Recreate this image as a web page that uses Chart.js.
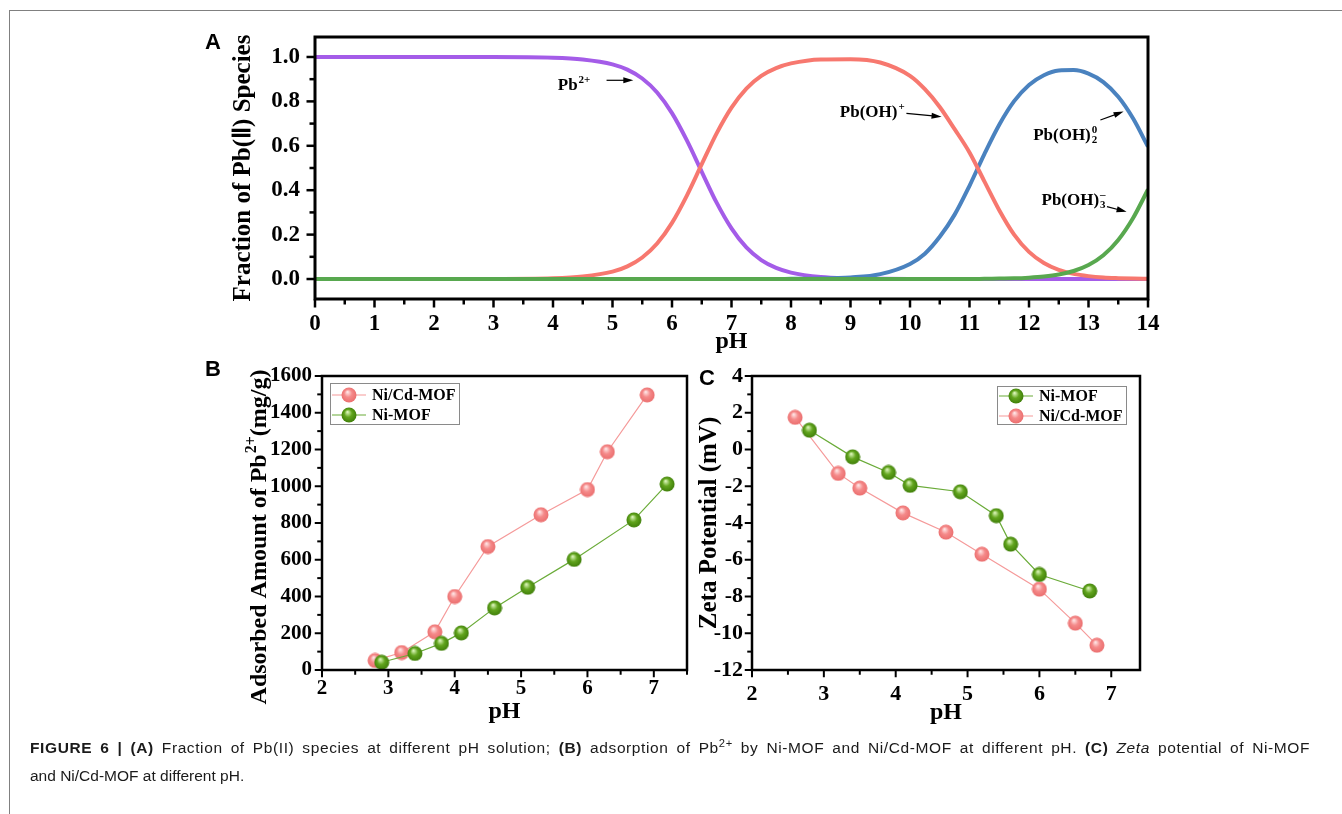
<!DOCTYPE html>
<html>
<head>
<meta charset="utf-8">
<title>Pb(II) speciation, adsorption and zeta potential</title>
<script src="https://cdn.jsdelivr.net/npm/chart.js@4.4.0/dist/chart.umd.min.js"></script>
<style>
  html, body { margin: 0; padding: 0; background: #fff; }
  body { width: 1342px; height: 814px; position: relative; overflow: hidden; }
  .frame { position: absolute; left: 9px; top: 10px; right: -2px; bottom: -2px;
           border-left: 1.5px solid #808080; border-top: 1.5px solid #808080; }
  canvas { position: absolute; }
  .tag { position: absolute; font: bold 22px "Liberation Sans", Arial, sans-serif; line-height: 22px; color: #000; }
  .caption { position: absolute; left: 30px; top: 734px; width: 1280px; font: 15.5px "Liberation Sans", Arial, sans-serif;
             line-height: 28px; color: #1a1a1a; }
  .caption .full { text-align: justify; text-align-last: justify; white-space: nowrap; letter-spacing: 0.6px; }
  .caption sup { font-size: 0.72em; line-height: 0; vertical-align: 0.5em; }
</style>
</head>
<body>
<div class="frame"></div>
<canvas id="chartA" width="980" height="360" style="left:200px;top:20px"></canvas>
<canvas id="chartB" width="500" height="380" style="left:200px;top:360px"></canvas>
<canvas id="chartC" width="480" height="380" style="left:690px;top:360px"></canvas>
<div class="tag" style="left:205px;top:31px">A</div>
<div class="tag" style="left:205px;top:358px">B</div>
<div class="tag" style="left:699px;top:367px">C</div>
<div class="caption">
  <div class="full"><b>FIGURE 6 | (A)</b> Fraction of Pb(II) species at different pH solution; <b>(B)</b> adsorption of Pb<sup>2+</sup> by Ni-MOF and Ni/Cd-MOF at different pH. <b>(C)</b> <i>Zeta</i> potential of Ni-MOF</div>
  <div>and Ni/Cd-MOF at different pH.</div>
</div>
<script>
// (A) species distribution of Pb(II) vs pH
const phGrid = [0, 1, 2, 3, 4, 4.5, 5, 5.25, 5.5, 5.75, 6, 6.25, 6.5, 6.75, 7, 7.25, 7.5, 7.75, 8, 8.5,
  9, 9.5, 10, 10.25, 10.5, 10.75, 11, 11.25, 11.5, 11.75, 12, 12.25, 12.5, 12.75, 13, 13.25, 13.5, 13.75, 14];
const fracPb = [1, 1, 1, 1, 0.997, 0.989, 0.967, 0.943, 0.903, 0.840, 0.747, 0.624, 0.483, 0.344, 0.228, 0.142, 0.085, 0.050, 0.029, 0.009,
  0.003, 0.001, 0, 0, 0, 0, 0, 0, 0, 0, 0, 0, 0, 0, 0, 0, 0, 0, 0];
const fracPbOH = [0, 0, 0, 0, 0.003, 0.011, 0.033, 0.057, 0.097, 0.160, 0.253, 0.376, 0.517, 0.656, 0.772, 0.858, 0.915, 0.950, 0.971, 0.989,
  0.990, 0.975, 0.915, 0.855, 0.775, 0.675, 0.570, 0.440, 0.310, 0.200, 0.122, 0.072, 0.041, 0.023, 0.013, 0.007, 0.004, 0.002, 0.001];
const fracPbOH2 = [0, 0, 0, 0, 0, 0, 0, 0, 0, 0, 0, 0, 0, 0, 0, 0, 0, 0, 0.001, 0.002,
  0.007, 0.022, 0.068, 0.114, 0.190, 0.290, 0.420, 0.563, 0.695, 0.801, 0.874, 0.918, 0.939, 0.941, 0.925, 0.887, 0.821, 0.723, 0.596];
const fracPbOH3 = [0, 0, 0, 0, 0, 0, 0, 0, 0, 0, 0, 0, 0, 0, 0, 0, 0, 0, 0, 0,
  0, 0, 0, 0, 0, 0, 0, 0.001, 0.002, 0.003, 0.006, 0.011, 0.020, 0.036, 0.063, 0.107, 0.176, 0.275, 0.403];

// (B) adsorbed amount of Pb2+ (mg/g)
const phNiCdB = [2.8, 3.2, 3.7, 4.0, 4.5, 5.3, 6.0, 6.3, 6.9];
const qNiCd = [52, 95, 208, 400, 672, 845, 982, 1188, 1497];
const qNiCdErr = [0, 0, 0, 0, 0, 0, 0, 0, 28];
const phNiB = [2.9, 3.4, 3.8, 4.1, 4.6, 5.1, 5.8, 6.7, 7.2];
const qNi = [42, 90, 145, 202, 338, 450, 602, 817, 1012];

// (C) zeta potential (mV)
const phNiC = [2.8, 3.4, 3.9, 4.2, 4.9, 5.4, 5.6, 6.0, 6.7];
const zetaNi = [1.05, -0.4, -1.25, -1.95, -2.3, -3.6, -5.15, -6.8, -7.7];
const phNiCdC = [2.6, 3.2, 3.5, 4.1, 4.7, 5.2, 6.0, 6.5, 6.8];
const zetaNiCd = [1.75, -1.3, -2.1, -3.45, -4.5, -5.7, -7.6, -9.45, -10.65];

const SERIF = '"Liberation Serif", "Times New Roman", serif';

function axisFont(size) {
  return { family: SERIF, weight: 'bold', size };
}

// shaded sphere used as point marker
function ball(light, base, dark) {
  const c = document.createElement('canvas');
  c.width = c.height = 16;
  const g = c.getContext('2d');
  const grad = g.createRadialGradient(6.5, 5, 0.5, 8, 8, 8);
  grad.addColorStop(0, light);
  grad.addColorStop(0.45, base);
  grad.addColorStop(1, dark);
  g.fillStyle = grad;
  g.beginPath();
  g.arc(8, 8, 7.5, 0, Math.PI * 2);
  g.fill();
  return c;
}
const pinkBall = ball('#ffe2e2', '#f58a8a', '#ea6c6c');
const greenBall = ball('#d7f2b4', '#62a51e', '#3d7c08');

// text with superscript / subscript runs
function runWidth(ctx, r, size) {
  if (r.t) {
    ctx.font = `bold ${size}px ${SERIF}`;
    return ctx.measureText(r.t).width;
  }
  ctx.font = `bold ${Math.round(size * 0.66)}px ${SERIF}`;
  return Math.max(r.sup ? ctx.measureText(r.sup).width : 0, r.sub ? ctx.measureText(r.sub).width : 0) + 1;
}
function drawRich(ctx, runs, x, y, size, align) {
  const widths = runs.map(r => runWidth(ctx, r, size));
  let cx = align === 'center' ? x - widths.reduce((s, w) => s + w, 0) / 2 : x;
  ctx.textAlign = 'left';
  ctx.textBaseline = 'alphabetic';
  runs.forEach((r, i) => {
    if (r.t) {
      ctx.font = `bold ${size}px ${SERIF}`;
      ctx.fillText(r.t, cx, y);
    } else {
      ctx.font = `bold ${Math.round(size * 0.66)}px ${SERIF}`;
      if (r.sup) ctx.fillText(r.sup, cx + 1, y - size * 0.42);
      if (r.sub) ctx.fillText(r.sub, cx + 1, y + size * 0.2);
    }
    cx += widths[i];
  });
}

function arrow(ctx, x1, y1, x2, y2) {
  const a = Math.atan2(y2 - y1, x2 - x1);
  const c = Math.cos(a), s = Math.sin(a);
  ctx.beginPath();
  ctx.moveTo(x1, y1);
  ctx.lineTo(x2 - 6 * c, y2 - 6 * s);
  ctx.stroke();
  ctx.beginPath();
  ctx.moveTo(x2, y2);
  ctx.lineTo(x2 - 10 * c + 3 * s, y2 - 10 * s - 3 * c);
  ctx.lineTo(x2 - 10 * c - 3 * s, y2 - 10 * s + 3 * c);
  ctx.closePath();
  ctx.fill();
}

function tickValues(min, max, step) {
  const out = [];
  for (let k = Math.ceil(min / step - 1e-9); k * step <= max + 1e-9; k++) out.push(+(k * step).toFixed(6));
  return out;
}
function isMajor(v, major) {
  return Math.abs(v / major - Math.round(v / major)) < 1e-6;
}

// closed frame with outward major/minor ticks
const frameTicks = {
  id: 'frameTicks',
  afterDatasetsDraw(chart, args, o) {
    const { ctx, chartArea: a, scales: { x, y } } = chart;
    const half = o.frame / 2;
    ctx.save();
    ctx.strokeStyle = '#000';
    ctx.lineWidth = o.tickWidth;
    tickValues(x.min, x.max, o.xMinor).forEach(v => {
      const px = x.getPixelForValue(v);
      const len = isMajor(v, o.xMajor) ? o.major : o.minor;
      ctx.beginPath();
      ctx.moveTo(px, a.bottom);
      ctx.lineTo(px, a.bottom + half + len);
      ctx.stroke();
    });
    tickValues(y.min, y.max, o.yMinor).forEach(v => {
      const py = y.getPixelForValue(v);
      const len = isMajor(v, o.yMajor) ? o.major : o.minor;
      ctx.beginPath();
      ctx.moveTo(a.left, py);
      ctx.lineTo(a.left - half - len, py);
      ctx.stroke();
    });
    ctx.lineWidth = o.frame;
    ctx.strokeRect(a.left, a.top, a.right - a.left, a.bottom - a.top);
    ctx.restore();
  }
};

// species names with arrows, placed in data units
const speciesLabels = {
  id: 'speciesLabels',
  afterDraw(chart, args, o) {
    if (!o.items) return;
    const { ctx, scales: { x, y } } = chart;
    ctx.save();
    ctx.fillStyle = '#000';
    ctx.strokeStyle = '#000';
    ctx.lineWidth = 1.2;
    o.items.forEach(it => {
      drawRich(ctx, it.runs, x.getPixelForValue(it.at[0]), y.getPixelForValue(it.at[1]), 17, 'left');
      arrow(ctx, x.getPixelForValue(it.from[0]), y.getPixelForValue(it.from[1]),
        x.getPixelForValue(it.to[0]), y.getPixelForValue(it.to[1]));
    });
    ctx.restore();
  }
};

// boxed legend inside the plot area
const insetLegend = {
  id: 'insetLegend',
  afterDraw(chart, args, o) {
    if (!o.order) return;
    const { ctx, chartArea: a } = chart;
    const x0 = o.right != null ? a.right - o.right - o.width : a.left + o.left;
    const y0 = a.top + o.top;
    ctx.save();
    ctx.strokeStyle = '#8a8a8a';
    ctx.lineWidth = 1;
    ctx.strokeRect(Math.round(x0) + 0.5, Math.round(y0) + 0.5, o.width, o.height);
    o.order.forEach((di, i) => {
      const ds = chart.data.datasets[di];
      const cy = y0 + o.rowTop + i * o.rowGap;
      ctx.strokeStyle = ds.borderColor;
      ctx.lineWidth = 1.2;
      ctx.beginPath();
      ctx.moveTo(x0 + 2, cy);
      ctx.lineTo(x0 + 36, cy);
      ctx.stroke();
      ctx.drawImage(ds.pointStyle, x0 + 11, cy - 8);
      ctx.fillStyle = '#000';
      ctx.font = `bold 16px ${SERIF}`;
      ctx.textAlign = 'left';
      ctx.textBaseline = 'middle';
      ctx.fillText(ds.label, x0 + 42, cy + 1);
    });
    ctx.restore();
  }
};

// vertical error bars from a dataset's errors array
const errorBars = {
  id: 'errorBars',
  beforeDatasetsDraw(chart) {
    const { ctx, scales: { y } } = chart;
    chart.data.datasets.forEach((ds, di) => {
      if (!ds.errors) return;
      const meta = chart.getDatasetMeta(di);
      ctx.save();
      ctx.strokeStyle = ds.borderColor;
      ctx.lineWidth = 1.2;
      meta.data.forEach((pt, i) => {
        const e = ds.errors[i];
        if (!e) return;
        const v = ds.data[i].y;
        const top = y.getPixelForValue(v + e), bot = y.getPixelForValue(v - e);
        ctx.beginPath();
        ctx.moveTo(pt.x, top); ctx.lineTo(pt.x, bot);
        ctx.moveTo(pt.x - 3, top); ctx.lineTo(pt.x + 3, top);
        ctx.moveTo(pt.x - 3, bot); ctx.lineTo(pt.x + 3, bot);
        ctx.stroke();
      });
      ctx.restore();
    });
  }
};

// rotated y title with superscript
const richYTitle = {
  id: 'richYTitle',
  afterDraw(chart, args, o) {
    if (!o.runs) return;
    const { ctx, chartArea: a } = chart;
    ctx.save();
    ctx.fillStyle = '#000';
    ctx.translate(a.left - o.dx, (a.top + a.bottom) / 2 + o.dy);
    ctx.rotate(-Math.PI / 2);
    drawRich(ctx, o.runs, 0, o.size * 0.34, o.size, 'center');
    ctx.restore();
  }
};

Chart.register(frameTicks, speciesLabels, insetLegend, errorBars, richYTitle);
Chart.defaults.font.family = SERIF;
Chart.defaults.color = '#000';

function curve(label, values, color) {
  return {
    label,
    data: phGrid.map((x, i) => ({ x, y: values[i] })),
    borderColor: color,
    borderWidth: 4,
    pointRadius: 0,
    cubicInterpolationMode: 'monotone',
    fill: false
  };
}
function markers(label, xs, ys, line, img) {
  return {
    label,
    data: xs.map((x, i) => ({ x, y: ys[i] })),
    borderColor: line,
    borderWidth: 1.2,
    pointStyle: img,
    pointRadius: 8,
    pointHoverRadius: 8,
    tension: 0,
    fill: false
  };
}

const base = {
  responsive: false,
  animation: false,
  devicePixelRatio: 1,
  events: []
};
const noGrid = { display: false, drawTicks: false };

// fixed axis box size; label overhang must not push the plot area
function fixSize(prop, size) {
  return s => {
    s[prop] = size;
    s.paddingTop = s.paddingBottom = s.paddingLeft = s.paddingRight = 0;
  };
}

function xScale(min, max, height, font, pad, titlePad) {
  return {
    type: 'linear', min, max,
    afterFit: fixSize('height', height),
    grid: noGrid, border: { display: false },
    ticks: { stepSize: 1, padding: pad, font: axisFont(font), color: '#000', includeBounds: false, maxRotation: 0, autoSkip: false },
    title: { display: true, text: 'pH', font: axisFont(24), color: '#000', padding: { top: 0, bottom: titlePad } }
  };
}

// A
new Chart(document.getElementById('chartA'), {
  type: 'line',
  data: {
    datasets: [
      curve('Pb(OH)3-', fracPbOH3, '#58a84f'),
      curve('Pb(OH)+', fracPbOH, '#f7786f'),
      curve('Pb(OH)2', fracPbOH2, '#4a82bf'),
      curve('Pb2+', fracPb, '#a45ce8')
    ]
  },
  options: {
    ...base,
    layout: { padding: { left: 0, top: 17, right: 32, bottom: 0 } },
    plugins: {
      legend: { display: false }, tooltip: { enabled: false },
      frameTicks: { frame: 3, tickWidth: 2.5, major: 7, minor: 4, xMajor: 1, xMinor: 0.5, yMajor: 0.2, yMinor: 0.1 },
      speciesLabels: {
        items: [
          { runs: [{ t: 'Pb' }, { sup: '2+' }], at: [4.08, 0.85], from: [4.9, 0.895], to: [5.35, 0.895] },
          { runs: [{ t: 'Pb(OH)' }, { sup: '+' }], at: [8.82, 0.73], from: [9.94, 0.746], to: [10.53, 0.731] },
          { runs: [{ t: 'Pb(OH)' }, { sub: '2', sup: '0' }], at: [12.07, 0.626], from: [13.2, 0.716], to: [13.59, 0.754] },
          { runs: [{ t: 'Pb(OH)' }, { sub: '3', sup: '–' }], at: [12.21, 0.333], from: [13.31, 0.326], to: [13.64, 0.303] }
        ]
      }
    },
    scales: {
      x: xScale(0, 14, 81, 23, 11, 24),
      y: {
        min: -0.09, max: 1.09,
        afterFit: fixSize('width', 115),
        grid: noGrid, border: { display: false },
        ticks: { stepSize: 0.2, padding: 15, font: axisFont(23), color: '#000', includeBounds: false, callback: v => v.toFixed(1) },
        title: { display: true, text: 'Fraction of Pb(Ⅱ) Species', font: axisFont(25), color: '#000', padding: { top: 29, bottom: 0 } }
      }
    }
  }
});

// B
new Chart(document.getElementById('chartB'), {
  type: 'line',
  data: {
    datasets: [
      markers('Ni-MOF', phNiB, qNi, '#6aab38', greenBall),
      Object.assign(markers('Ni/Cd-MOF', phNiCdB, qNiCd, '#f59a9a', pinkBall), { errors: qNiCdErr })
    ]
  },
  options: {
    ...base,
    layout: { padding: { left: 0, top: 16, right: 13, bottom: 0 } },
    plugins: {
      legend: { display: false }, tooltip: { enabled: false },
      frameTicks: { frame: 2.5, tickWidth: 2, major: 6, minor: 3.5, xMajor: 1, xMinor: 0.5, yMajor: 200, yMinor: 100 },
      insetLegend: { order: [1, 0], left: 8, top: 7, width: 129, height: 41, rowTop: 12, rowGap: 20 },
      richYTitle: { runs: [{ t: 'Adsorbed Amount of Pb' }, { sup: '2+' }, { t: '(mg/g)' }], dx: 64, dy: 14, size: 24 }
    },
    scales: {
      x: xScale(2, 7.5, 70, 21, 6, 14),
      y: {
        min: 0, max: 1600,
        afterFit: fixSize('width', 122),
        grid: noGrid, border: { display: false },
        ticks: { stepSize: 200, padding: 10, font: axisFont(21), color: '#000', callback: v => String(v) },
        title: { display: false }
      }
    }
  }
});

// C
new Chart(document.getElementById('chartC'), {
  type: 'line',
  data: {
    datasets: [
      markers('Ni-MOF', phNiC, zetaNi, '#6aab38', greenBall),
      markers('Ni/Cd-MOF', phNiCdC, zetaNiCd, '#f59a9a', pinkBall)
    ]
  },
  options: {
    ...base,
    layout: { padding: { left: 0, top: 16, right: 30, bottom: 0 } },
    plugins: {
      legend: { display: false }, tooltip: { enabled: false },
      frameTicks: { frame: 2.5, tickWidth: 2, major: 6, minor: 3.5, xMajor: 1, xMinor: 0.5, yMajor: 2, yMinor: 1 },
      insetLegend: { order: [0, 1], right: 14, top: 10, width: 129, height: 38, rowTop: 10, rowGap: 20 }
    },
    scales: {
      x: xScale(2, 7.4, 70, 22, 11, 13),
      y: {
        min: -12, max: 4,
        afterFit: fixSize('width', 62),
        grid: noGrid, border: { display: false },
        ticks: { stepSize: 2, padding: 9, font: axisFont(22), color: '#000', callback: v => String(v) },
        title: { display: true, text: 'Zeta Potential (mV)', font: axisFont(25), color: '#000', padding: { top: 5, bottom: 0 } }
      }
    }
  }
});
</script>
</body>
</html>
